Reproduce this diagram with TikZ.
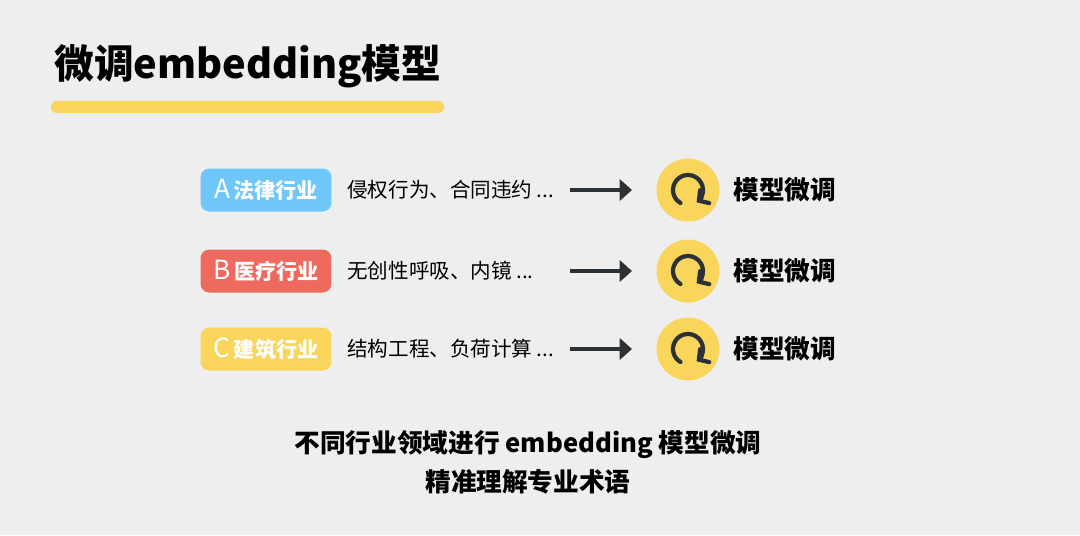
\documentclass[tikz,border=0pt]{standalone}
\usepackage{fontspec}
\setmainfont{Noto Sans CJK SC}
\usetikzlibrary{arrows.meta,calc}
\definecolor{bgGray}{HTML}{EEEEEE}
\definecolor{tagBlue}{HTML}{6EC6F9}
\definecolor{tagRed}{HTML}{EE6A5E}
\definecolor{tagYellow}{HTML}{F9D55B}
\definecolor{inkDark}{HTML}{2B3134}
\newcommand{\moredots}{...}
\tikzset{
  tag/.style={rounded corners=5pt,minimum width=2.62cm,minimum height=0.86cm,
    inner sep=0pt,font=\fontsize{12}{12}\selectfont\bfseries,text=white},
  item/.style={anchor=west,inner sep=0pt,font=\fontsize{11.7}{12}\selectfont},
  model/.style={anchor=west,inner sep=0pt,font=\fontsize{14.6}{15}\selectfont\bfseries},
  badge/.style={circle,fill=tagYellow,minimum size=1.26cm,inner sep=0pt},
  flow/.style={inkDark,line width=2.4pt,-{Triangle[length=7pt,width=12pt]}}
}
\begin{document}
\begin{tikzpicture}[x=0.02cm,y=-0.02cm]
  \fill[bgGray] (0,0) rectangle (1080,535);
  \useasboundingbox (0,0) rectangle (1080,535);
  % title
  \node[anchor=west,inner sep=0pt,font=\fontsize{22.6}{25}\selectfont\bfseries] (title) at (54,66) {微调embedding模型};
  \draw[tagYellow,line width=7pt,line cap=round] (57,107) -- (438,107);
  % rows
  \foreach \y/\col/\lt/\name/\desc [count=\i] in
      {190/tagBlue/A/法律行业/侵权行为、合同违约 \moredots,
       271/tagRed/B/医疗行业/无创性呼吸、内镜 \moredots,
       349/tagYellow/C/建筑行业/结构工程、负荷计算 \moredots}{
    \node[tag,fill=\col] (tag\i) at (266,\y) {{\fontsize{15}{15}\selectfont\mdseries\lt}\,\name};
    \node[item] (desc\i) at (347,\y) {\desc};
    \coordinate (from\i) at (570,\y);
    \node[badge] (icon\i) at (688,\y) {};
    \draw[flow] (from\i) -- (632,\y);
    \draw[inkDark,line width=2.4pt,line cap=round,-{Straight Barb[length=4pt,width=9pt,line cap=round]}]
      ($(icon\i)+(-240:15)$) arc[start angle=-240,end angle=55,radius=15];
    \node[model] (model\i) at (733,\y) {模型微调};
  }
  % caption
  \node[font=\fontsize{14.6}{15}\selectfont\bfseries,align=center,inner sep=0pt] (note) at (528,462)
    {不同行业领域进行 embedding 模型微调\\[5pt]精准理解专业术语};
\end{tikzpicture}
\end{document}
